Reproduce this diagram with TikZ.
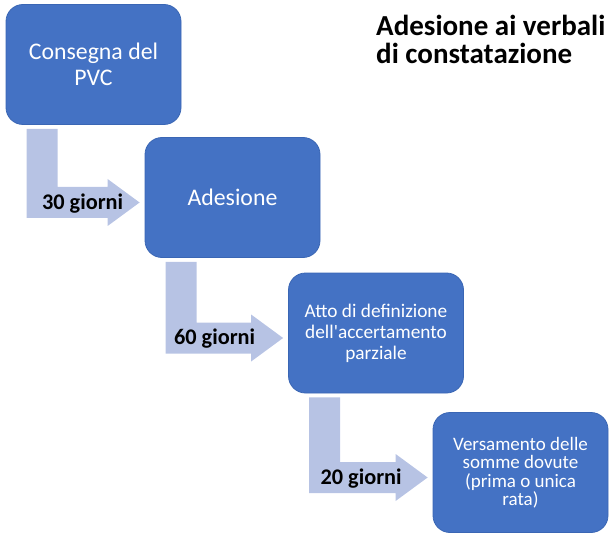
\documentclass[tikz,border=0pt]{standalone}
\usepackage{fontspec}
\setmainfont{Carlito}
\usetikzlibrary{calc}
\definecolor{boxblue}{HTML}{4472C4}
\definecolor{boxedge}{HTML}{3A66B4}
\definecolor{arrowblue}{RGB}{183,195,228}
\newcommand\bentarr[5]{%
  \coordinate (#3tip) at ($(#2.west)+(-5,5)$);
  \coordinate (#3a) at ($(#1.south west)+(21,4)$);
  \coordinate (#3b) at ($(#1.south west)+(52,4)$);
  \coordinate (#3h) at ($(#3tip)+(-32,0)$);
  \fill[arrowblue] (#3a) -- (#3b) -- ($(#3b |- #3tip)+(0,-15.5)$)
    -- ($(#3h)+(0,-15.5)$) -- ($(#3h)+(0,-23.5)$) -- (#3tip)
    -- ($(#3h)+(0,23.5)$) -- ($(#3h)+(0,15.5)$)
    -- ($(#3a |- #3tip)+(0,15.5)$) -- cycle;
  \node[lbl] (#3) at ($(#3a |- #3tip)+(#5,1)$) {#4};
}
\begin{document}
\begin{tikzpicture}[x=1pt,y=-1pt,
  stepbox/.style={draw=boxedge, line width=0.8pt, fill=boxblue,
    rounded corners=17pt, text=white, align=center, inner sep=0pt,
    minimum width=175pt, minimum height=120pt},
  bigtxt/.style={font=\fontsize{23.8}{26}\selectfont},
  lbl/.style={font=\bfseries\fontsize{22.3}{25}\selectfont, text=black, inner sep=0pt}]
\useasboundingbox (0,0) rectangle (615,537);
\node[stepbox, bigtxt] (b1) at (93.5,64.5) {Consegna del\\PVC};
\node[stepbox, bigtxt] (b2) at (232.5,197.5) {Adesione};
\node[stepbox, font=\fontsize{19.3}{21}\selectfont] (b3) at (376,333) {Atto di definizione\\dell\textquotesingle accertamento\\parziale};
\node[stepbox, font=\fontsize{19}{18.5}\selectfont] (b4) at (520.5,472.5) {Versamento delle\\somme dovute\\(prima o unica\\rata)};
\bentarr{b1}{b2}{l1}{30 giorni}{56}
\bentarr{b2}{b3}{l2}{60 giorni}{49}
\bentarr{b3}{b4}{l3}{20 giorni}{52}
\node[anchor=north west, align=left, inner sep=0pt,
  font=\bfseries\fontsize{29}{28}\selectfont] (title) at (376,15)
  {Adesione ai verbali\\di constatazione};
\end{tikzpicture}
\end{document}
